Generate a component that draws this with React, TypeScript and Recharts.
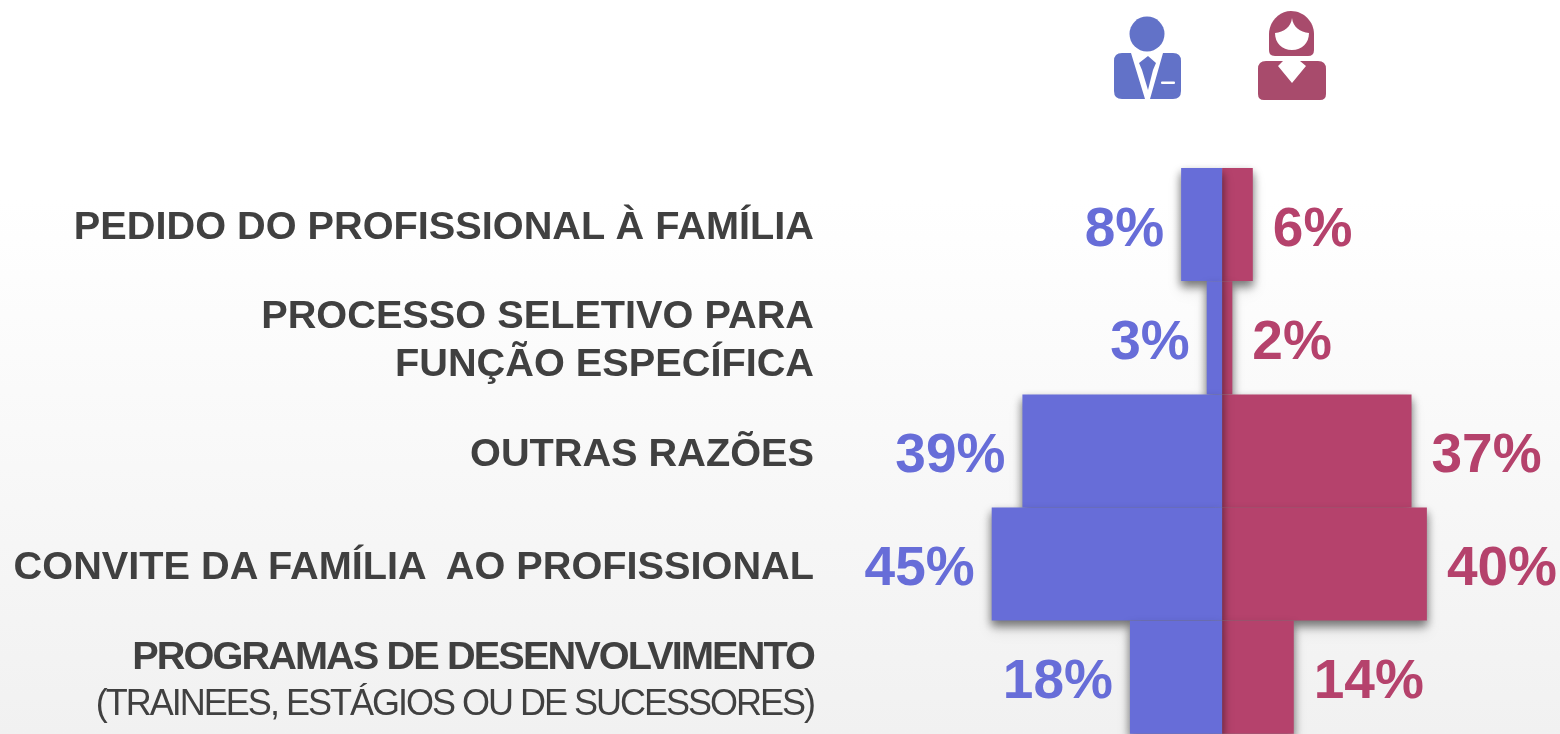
import { Bar, BarChart, LabelList, XAxis, YAxis } from "recharts"

const categories = [
  "PEDIDO DO PROFISSIONAL À FAMÍLIA",
  "PROCESSO SELETIVO PARA|FUNÇÃO ESPECÍFICA",
  "OUTRAS RAZÕES",
  "CONVITE DA FAMÍLIA  AO PROFISSIONAL",
  "PROGRAMAS DE DESENVOLVIMENTO|(TRAINEES, ESTÁGIOS OU DE SUCESSORES)",
]
const menValues = [8, 3, 39, 45, 18]
const womenValues = [6, 2, 37, 40, 14]

const chartData = categories.map((name, i) => ({
  name,
  men: -menValues[i],
  women: womenValues[i],
}))

const BLUE = "#676dd8"
const RED = "#b5426c"
const TEXT = "#404040"
const FONT = "'Liberation Sans', Arial, sans-serif"

function CategoryTick({ y, payload }: any) {
  const lines: string[] = payload.value.split("|")
  const isProgramas = lines[0].startsWith("PROGRAMAS")
  const lineHeight = isProgramas ? 46 : 48
  return (
    <g>
      {lines.map((line, i) => {
        const isNote = line.startsWith("(")
        return (
          <text
            key={line}
            x={814}
            y={y + 14.5 + (i - (lines.length - 1) / 2) * lineHeight}
            textAnchor="end"
            xmlSpace="preserve"
            fontFamily={FONT}
            fontSize={isNote ? 36 : 39.7}
            fontWeight={isNote ? 400 : 700}
            letterSpacing={isNote ? -2 : isProgramas ? -1.9 : 0}
            fill={TEXT}
          >
            {line}
          </text>
        )
      })}
    </g>
  )
}

function ValueLabel({ x, y, width, height, value, color, side }: any) {
  const end = x + width
  const offset = side === "left" ? -17 : 20
  return (
    <text
      x={end + offset}
      y={y + height / 2 + 21}
      textAnchor={side === "left" ? "end" : "start"}
      fontFamily={FONT}
      fontSize={55}
      fontWeight={700}
      fill={color}
    >
      {Math.abs(value)}%
    </text>
  )
}

function PeopleIcons() {
  return (
    <svg width={1560} height={120} style={{ position: "absolute", left: 0, top: 0 }}>
      <circle cx={1147} cy={34} r={17.5} fill="#6272c8" />
      <path
        d="M1122 53H1131L1145 99H1122Q1114 99 1114 91V61Q1114 53 1122 53ZM1163 53H1173Q1181 53 1181 61V91Q1181 99 1173 99H1150Z"
        fill="#6272c8"
      />
      <path d="M1148 56L1156 63L1153 70L1148 90L1142 70L1139 63Z" fill="#6272c8" />
      <rect x={1161} y={81.5} width={14} height={2.5} rx={1} fill="#fff" />
      <path
        d="M1291 11C1304 11 1314 22 1314 34V50Q1314 56 1308 56H1275Q1269 56 1269 50V34C1269 22 1279 11 1291 11Z"
        fill="#a84b6c"
      />
      <path
        d="M1292 18C1291 27 1284 32 1275 33C1275 43 1282 50 1292 50C1302 50 1309 43 1309 33C1300 32 1293 27 1292 18Z"
        fill="#fff"
      />
      <path
        d="M1266 61H1283L1278 66L1292 83L1306 66L1300 61H1318Q1326 61 1326 69V94Q1326 100 1320 100H1264Q1258 100 1258 94V69Q1258 61 1266 61Z"
        fill="#a84b6c"
      />
    </svg>
  )
}

export default function App() {
  return (
    <div
      style={{
        position: "absolute",
        left: 0,
        top: 0,
        width: 1560,
        height: 734,
        overflow: "hidden",
        background: "linear-gradient(to bottom, #ffffff 0px, #ffffff 200px, #f1f1f1 734px)",
      }}
    >
      <style>{`.shadowed { filter: drop-shadow(0 5px 5px rgba(0,0,0,0.32)); }`}</style>
      <PeopleIcons />
      <BarChart
        width={1560}
        height={734}
        data={chartData}
        layout="vertical"
        stackOffset="sign"
        barCategoryGap={0}
        margin={{ top: 168, right: 0, bottom: 0, left: 0 }}
      >
        <XAxis type="number" hide domain={[-238.5, 66]} allowDataOverflow />
        <YAxis
          type="category"
          dataKey="name"
          width={1}
          interval={0}
          axisLine={false}
          tickLine={false}
          tick={<CategoryTick />}
        />
        <Bar dataKey="women" stackId="a" fill={RED} className="shadowed" isAnimationActive={false}>
          <LabelList dataKey="women" content={<ValueLabel color={RED} side="right" />} />
        </Bar>
        <Bar dataKey="men" stackId="a" fill={BLUE} className="shadowed" isAnimationActive={false}>
          <LabelList dataKey="men" content={<ValueLabel color={BLUE} side="left" />} />
        </Bar>
      </BarChart>
    </div>
  )
}
